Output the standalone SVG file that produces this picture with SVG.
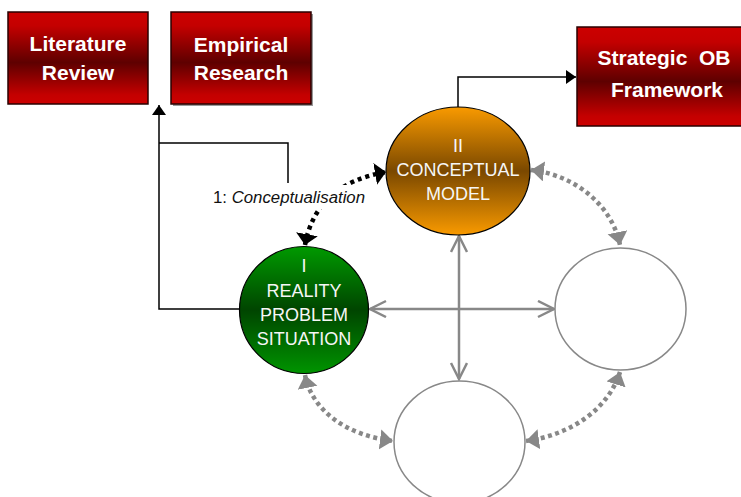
<svg xmlns="http://www.w3.org/2000/svg" width="741" height="497" viewBox="0 0 741 497">
<defs>
<style>
.box{stroke:#2a0000;stroke-width:1.5;fill:url(#red)}
.bt{font-family:"Liberation Sans",Arial,sans-serif;font-weight:bold;font-size:21px;fill:#fff;text-anchor:middle}
.ct{font-family:"Liberation Sans",Arial,sans-serif;font-size:18px;fill:#f6f6f6;text-anchor:middle}
.blk{fill:none;stroke:#000;stroke-width:1.5}
.gx{fill:none;stroke:#888;stroke-width:2.5}
.gd{fill:none;stroke:#888;stroke-width:4.5;stroke-dasharray:4 3.5}
.bd{fill:none;stroke:#000;stroke-width:4.5;stroke-dasharray:4 4}
.empty{fill:#fff;stroke:#888;stroke-width:1.5}
</style>
<linearGradient id="red" x1="0" y1="0" x2="0" y2="1">
<stop offset="0" stop-color="#CC0000"/><stop offset="0.15" stop-color="#C40000"/><stop offset="0.55" stop-color="#5E0000"/><stop offset="0.9" stop-color="#C40000"/><stop offset="1" stop-color="#CC0000"/>
</linearGradient>
<linearGradient id="orange" x1="0" y1="0" x2="0" y2="1">
<stop offset="0" stop-color="#F99A00"/><stop offset="0.5" stop-color="#7A4800"/><stop offset="1" stop-color="#F99A00"/>
</linearGradient>
<linearGradient id="green" x1="0" y1="0" x2="0" y2="1">
<stop offset="0" stop-color="#009A00"/><stop offset="0.5" stop-color="#004500"/><stop offset="1" stop-color="#009400"/>
</linearGradient>
<marker id="ab" markerUnits="userSpaceOnUse" markerWidth="12" markerHeight="16" refX="10" refY="7" orient="auto"><path d="M0,0 L10,7 L0,14 Z" fill="#000"/></marker>
<marker id="abig" markerUnits="userSpaceOnUse" markerWidth="14" markerHeight="24" refX="11" refY="11" orient="auto-start-reverse"><path d="M0,0 L11,11 L0,22 Z" fill="#000"/></marker>
<marker id="ov" markerUnits="userSpaceOnUse" markerWidth="20" markerHeight="20" refX="17" refY="9" orient="auto-start-reverse"><path d="M1,1 L17,9 L1,17" fill="none" stroke="#888" stroke-width="2.5"/></marker>
<marker id="gt" markerUnits="userSpaceOnUse" markerWidth="16" markerHeight="22" refX="13" refY="10" orient="auto-start-reverse"><path d="M0,0 L13,10 L0,20 Z" fill="#888"/></marker>
</defs>
<rect width="741" height="497" fill="#fff"/>

<g id="connectors">
<path class="blk" d="M239,309 H159 V105" marker-end="url(#ab)"/>
<path class="blk" d="M288,183 V143 H159"/>
<path class="blk" d="M458,107 V77 H576" marker-end="url(#ab)"/>
<path class="bd" d="M305,245 Q316,184 386,172" marker-start="url(#abig)" marker-end="url(#abig)"/>
<path class="gx" d="M370,309 H554" marker-start="url(#ov)" marker-end="url(#ov)"/>
<path class="gx" d="M459,236 V379" marker-start="url(#ov)" marker-end="url(#ov)"/>
<path class="gd" d="M531,170 C575,175 612,205 620,245" marker-start="url(#gt)" marker-end="url(#gt)"/>
<path class="gd" d="M305,375 C312,410 345,435 393,441" marker-start="url(#gt)" marker-end="url(#gt)"/>
<path class="gd" d="M526,441 C570,435 608,410 620,372" marker-start="url(#gt)" marker-end="url(#gt)"/>
<g id="label-conceptualisation">
<rect x="209" y="185" width="160" height="24" fill="#fff"/>
<text x="289" y="203" font-family="'Liberation Sans',Arial,sans-serif" font-size="16.8" fill="#111" text-anchor="middle">1: <tspan font-style="italic">Conceptualisation</tspan></text>
</g>
</g>

<g id="literature-review">
<rect class="box" x="8" y="12" width="140" height="92"/>
<text class="bt" x="78" y="51">Literature</text>
<text class="bt" x="78" y="80">Review</text>
</g>
<g id="empirical-research">
<rect x="173" y="14" width="140" height="92" fill="#999"/>
<rect class="box" x="171" y="12" width="140" height="92"/>
<text class="bt" x="241" y="52">Empirical</text>
<text class="bt" x="241" y="80">Research</text>
</g>
<g id="strategic-ob">
<rect class="box" x="577" y="27" width="176" height="99"/>
<text class="bt" x="664" y="65" xml:space="preserve">Strategic  OB</text>
<text class="bt" x="667" y="97">Framework</text>
</g>
<g id="conceptual-model">
<ellipse cx="458" cy="171" rx="72" ry="64" fill="url(#orange)" stroke="#000" stroke-width="1.2"/>
<text class="ct" x="458" y="152">II</text>
<text class="ct" x="458" y="176">CONCEPTUAL</text>
<text class="ct" x="458" y="200">MODEL</text>
</g>
<g id="reality">
<ellipse cx="304" cy="310" rx="64.5" ry="63.5" fill="url(#green)" stroke="#000" stroke-width="1.2"/>
<text class="ct" x="304" y="272">I</text>
<text class="ct" x="304" y="297">REALITY</text>
<text class="ct" x="304" y="321">PROBLEM</text>
<text class="ct" x="304" y="345">SITUATION</text>
</g>
<g id="node-right">
<ellipse class="empty" cx="620.5" cy="309" rx="65.5" ry="61"/>
</g>
<g id="node-bottom">
<ellipse class="empty" cx="459.5" cy="442" rx="65.5" ry="61"/>
</g>
</svg>
